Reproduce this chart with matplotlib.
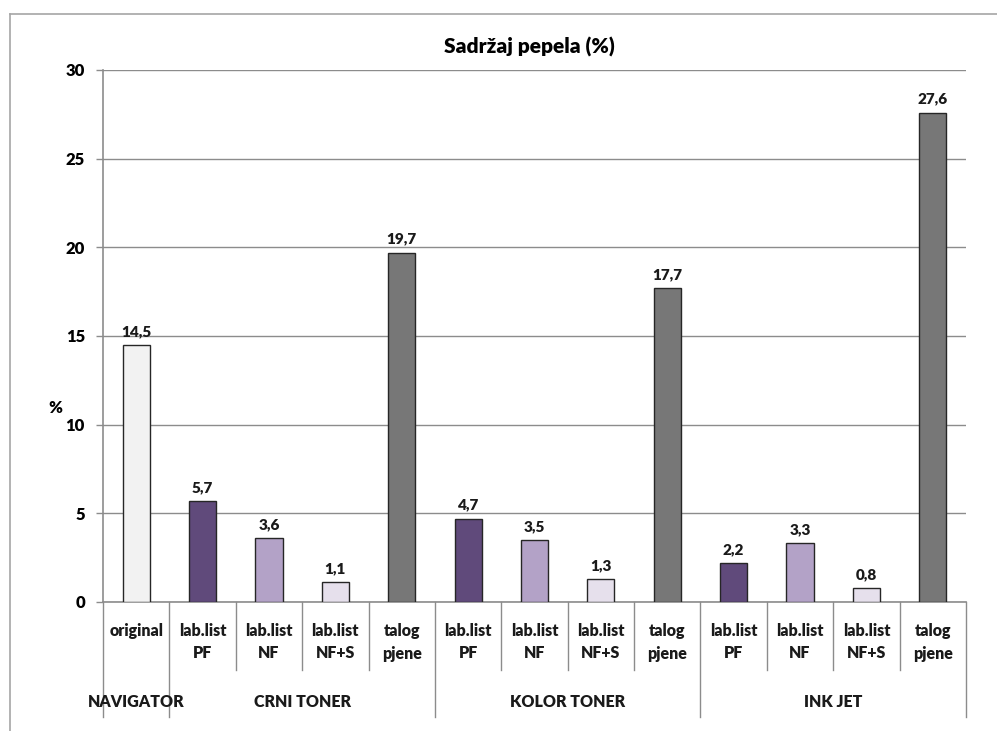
import matplotlib
matplotlib.use("Agg")
import matplotlib.pyplot as plt
from matplotlib.lines import Line2D
from matplotlib.transforms import blended_transform_factory

plt.rcParams['font.family'] = ['Lato', 'DejaVu Sans']
WT = "heavy"

title = "Sadržaj pepela (%)"
groups = ["NAVIGATOR", "CRNI TONER", "KOLOR TONER", "INK JET"]
group_sizes = [1, 4, 4, 4]
categories = ["original",
              "lab.list\nPF", "lab.list\nNF", "lab.list\nNF+S", "talog\npjene",
              "lab.list\nPF", "lab.list\nNF", "lab.list\nNF+S", "talog\npjene",
              "lab.list\nPF", "lab.list\nNF", "lab.list\nNF+S", "talog\npjene"]
values = [14.5, 5.7, 3.6, 1.1, 19.7, 4.7, 3.5, 1.3, 17.7, 2.2, 3.3, 0.8, 27.6]
kinds = ["original", "PF", "NF", "NFS", "talog",
         "PF", "NF", "NFS", "talog", "PF", "NF", "NFS", "talog"]
colors_map = {"original": "#F2F2F2", "PF": "#604A7B", "NF": "#B3A2C7",
              "NFS": "#E6E0EC", "talog": "#777777"}
yticks = [0, 5, 10, 15, 20, 25, 30]

W, H = 997, 731
fig = plt.figure(figsize=(W / 100, H / 100), dpi=100)
ax = fig.add_axes([103 / W, 1 - 602 / H, (966 - 103) / W, (602 - 70) / H])

n = len(values)
xs = list(range(n))
ax.bar(xs, values, width=0.41, color=[colors_map[k] for k in kinds],
       edgecolor="#262626", linewidth=1.0, zorder=3)
for x, v in zip(xs, values):
    ax.annotate(f"{v:.1f}".replace(".", ","), (x, v), xytext=(0, 5),
                textcoords="offset points", ha="center", va="bottom",
                fontsize=11, fontweight=WT, color="#1a1a1a")

ax.set_xlim(-0.5, n - 0.5)
ax.set_ylim(0, 30)
ax.set_yticks(yticks)
ax.set_yticklabels([str(t) for t in yticks], fontsize=12, fontweight=WT)
ax.yaxis.grid(True, color="#8c8c8c", linewidth=1.0, zorder=0)
ax.set_axisbelow(True)
ax.tick_params(axis="y", length=5, width=1, color="#8c8c8c", pad=8)
ax.tick_params(axis="x", bottom=False, labelbottom=False)
for s in ["top", "right"]:
    ax.spines[s].set_visible(False)
for s in ["left", "bottom"]:
    ax.spines[s].set_color("#8c8c8c")
    ax.spines[s].set_linewidth(1.2)

fig.text(529 / W, 1 - 47 / H, title, fontsize=15, fontweight=WT,
         ha="center", va="center")
fig.text(55 / W, 1 - 408 / H, "%", fontsize=12, fontweight=WT,
         ha="center", va="center")

tr = blended_transform_factory(ax.transData, fig.transFigure)
y_axis = 1 - 602 / H
y_short = 1 - 670 / H
y_long = 1 - 717 / H
long_bounds = [-0.5]
acc = 0
for g in group_sizes:
    acc += g
    long_bounds.append(acc - 0.5)
for b in range(n + 1):
    xb = b - 0.5
    yb = y_long if xb in long_bounds else y_short
    ax.add_line(Line2D([xb, xb], [y_axis, yb], transform=tr, color="#8c8c8c",
                       linewidth=1.0, clip_on=False))

for x, lab in zip(xs, categories):
    ax.text(x, 1 - 623 / H, lab, transform=tr, ha="center", va="top",
            fontsize=11.5, fontweight=WT, linespacing=1.5, color="#1a1a1a")

start = 0
for g, size in zip(groups, group_sizes):
    c = start + (size - 1) / 2
    ax.text(c, 1 - 702 / H, g, transform=tr, ha="center", va="center",
            fontsize=11.5, fontweight=WT, color="#1a1a1a")
    start += size

# outer chart frame (left and top edges visible)
fig.add_artist(Line2D([10 / W, 10 / W], [1 - 14 / H, 0], transform=fig.transFigure,
                      color="#a6a6a6", linewidth=1.2))
fig.add_artist(Line2D([10 / W, 1], [1 - 14 / H, 1 - 14 / H], transform=fig.transFigure,
                      color="#a6a6a6", linewidth=1.2))

fig.savefig("out.png", dpi=100)
